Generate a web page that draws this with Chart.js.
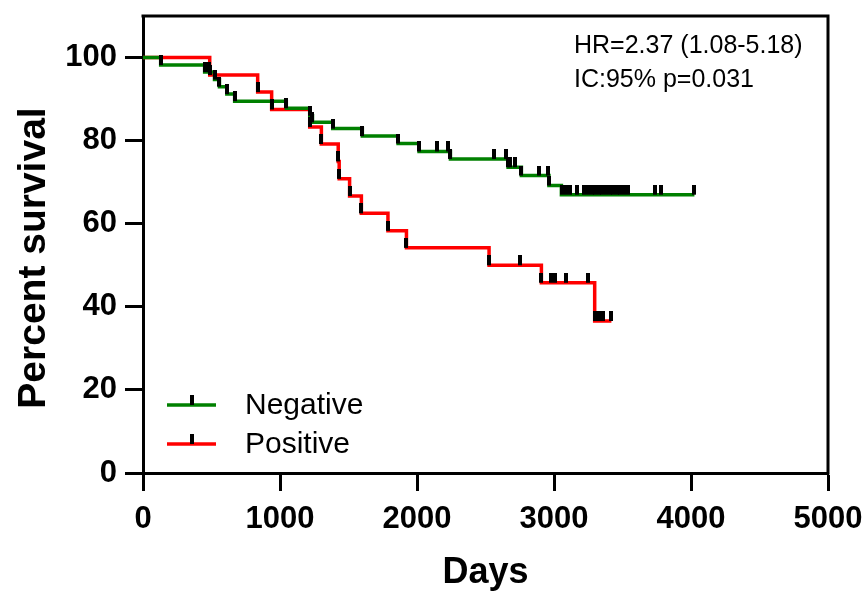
<!DOCTYPE html>
<html>
<head>
<meta charset="utf-8">
<script src="https://cdn.jsdelivr.net/npm/chart.js@4.4.1/dist/chart.umd.min.js"></script>
<style>
  html, body { margin: 0; padding: 0; background: #fff; }
</style>
</head>
<body>
<canvas id="kmChart" width="868" height="592"></canvas>
<script>
// Kaplan-Meier steps: day of each drop and survival (%) after it
const negDays = [0, 129, 450, 522, 558, 612, 669, 1046, 1217, 1237, 1385, 1601, 1862, 2015, 2244, 2665, 2762, 2963, 3054, 4025];
const negSurv = [100, 98.2, 96.5, 94.7, 93.0, 91.2, 89.5, 87.8, 86.0, 84.4, 82.9, 81.1, 79.3, 77.4, 75.6, 73.6, 71.6, 69.2, 67.0, 67.0];
const posDays = [0, 487, 837, 939, 1217, 1302, 1425, 1432, 1508, 1594, 1788, 1923, 2526, 2908, 3297, 3419];
const posSurv = [100, 95.8, 91.7, 87.5, 83.3, 79.2, 75.0, 70.8, 66.7, 62.5, 58.3, 54.2, 50.0, 45.8, 36.6, 36.6];

// censored observations (days)
const negCensored = [129, 450, 480, 522, 558, 612, 669, 1046, 1217, 1237, 1385, 1601, 1862, 2015, 2146, 2226, 2244,
  2560, 2653, 2665, 2680, 2713, 2762, 2891, 2956, 2963, 3060, 3090, 3120, 3169, 3222, 3248, 3275, 3301, 3327, 3354,
  3380, 3406, 3433, 3459, 3485, 3512, 3538, 3735, 3779, 4025];
const posCensored = [487, 837, 939, 1217, 1302, 1425, 1432, 1508, 1594, 1788, 1923, 2526, 2750, 2908, 2978, 3005,
  3085, 3248, 3300, 3325, 3355, 3419];

const groupNames = ['Negative', 'Positive'];
const groupColors = ['rgb(0, 128, 0)', 'rgb(255, 0, 0)'];
const xTicks = [0, 1000, 2000, 3000, 4000, 5000];
const yTicks = [0, 20, 40, 60, 80, 100];
const noteLines = ['HR=2.37 (1.08-5.18)', 'IC:95% p=0.031'];

const FONT = "'Liberation Sans', Arial, sans-serif";

function steps(days, surv) {
  return days.map((d, i) => ({ x: d, y: surv[i] }));
}

// value of the step curve at a given day
function survAt(days, surv, t) {
  let v = surv[0];
  for (let i = 0; i < days.length; i++) {
    if (days[i] <= t) v = surv[i];
  }
  return v;
}

function censorPoints(cens, days, surv) {
  return cens.map(t => ({ x: t, y: survAt(days, surv, t) }));
}

// small black tick sitting on top of the curve
function makeTick() {
  const c = document.createElement('canvas');
  c.width = 4;
  c.height = 20;
  const g = c.getContext('2d');
  g.fillStyle = '#000';
  g.fillRect(0, 0, 4, 10);
  return c;
}
const tickImg = makeTick();

const extras = {
  id: 'kmExtras',
  afterDraw(chart) {
    const { ctx, chartArea: a } = chart;
    ctx.save();

    // top and right frame
    ctx.strokeStyle = '#000';
    ctx.lineWidth = 3;
    ctx.lineCap = 'square';
    ctx.beginPath();
    ctx.moveTo(a.left, a.top);
    ctx.lineTo(a.right, a.top);
    ctx.lineTo(a.right, a.bottom);
    ctx.stroke();

    // legend
    ctx.lineCap = 'butt';
    ctx.font = '30px ' + FONT;
    ctx.textBaseline = 'middle';
    ctx.textAlign = 'left';
    groupNames.forEach((name, i) => {
      const y = a.bottom - 68 + i * 39;
      ctx.strokeStyle = groupColors[i];
      ctx.lineWidth = 3.5;
      ctx.beginPath();
      ctx.moveTo(a.left + 24, y);
      ctx.lineTo(a.left + 73, y);
      ctx.stroke();
      ctx.drawImage(tickImg, a.left + 47, y - 10);
      ctx.fillStyle = '#000';
      ctx.fillText(name, a.left + 102, y + 1);
    });

    // hazard ratio note
    ctx.font = '25px ' + FONT;
    noteLines.forEach((t, i) => {
      ctx.fillText(t, 574, 46 + i * 34);
    });

    // y axis title
    ctx.font = 'bold 39px ' + FONT;
    ctx.textAlign = 'center';
    ctx.translate(34, 258);
    ctx.rotate(-Math.PI / 2);
    ctx.fillText('Percent survival', 0, 0);
    ctx.restore();
  }
};

const tickFont = { family: FONT, size: 31, weight: 'bold' };

new Chart(document.getElementById('kmChart'), {
  type: 'line',
  data: {
    datasets: [
      {
        label: 'Negative censored',
        type: 'scatter',
        data: censorPoints(negCensored, negDays, negSurv),
        pointStyle: tickImg,
        pointRadius: 3,
        order: 0
      },
      {
        label: 'Positive censored',
        type: 'scatter',
        data: censorPoints(posCensored, posDays, posSurv),
        pointStyle: tickImg,
        pointRadius: 3,
        order: 0
      },
      {
        label: groupNames[0],
        data: steps(negDays, negSurv),
        borderColor: groupColors[0],
        borderWidth: 3.5,
        stepped: 'before',
        pointRadius: 0,
        fill: false,
        order: 1
      },
      {
        label: groupNames[1],
        data: steps(posDays, posSurv),
        borderColor: groupColors[1],
        borderWidth: 3.5,
        stepped: 'before',
        pointRadius: 0,
        fill: false,
        order: 2
      }
    ]
  },
  options: {
    responsive: false,
    animation: false,
    devicePixelRatio: 1,
    layout: { padding: { left: 0, top: 16, right: 40, bottom: 0 } },
    plugins: {
      legend: { display: false },
      tooltip: { enabled: false }
    },
    scales: {
      x: {
        type: 'linear',
        min: 0,
        max: 5000,
        afterBuildTicks: (axis) => { axis.ticks = xTicks.map(v => ({ value: v })); },
        afterFit: (scale) => { scale.height = 119; scale.paddingLeft = 0; scale.paddingRight = 0; },
        ticks: { font: tickFont, color: '#000', padding: 10, maxRotation: 0, callback: v => String(v) },
        grid: { drawOnChartArea: false, drawTicks: true, tickLength: 18, tickWidth: 3, tickColor: '#000' },
        border: { display: true, width: 3, color: '#000' },
        title: {
          display: true,
          text: 'Days',
          color: '#000',
          font: { family: FONT, size: 36, weight: 'bold', lineHeight: 1 },
          padding: { top: 0, bottom: 1 }
        }
      },
      y: {
        type: 'linear',
        min: 0,
        max: 110,
        afterBuildTicks: (axis) => { axis.ticks = yTicks.map(v => ({ value: v })); },
        afterFit: (scale) => { scale.width = 143; scale.paddingTop = 0; scale.paddingBottom = 0; },
        ticks: { font: tickFont, color: '#000', padding: 8, callback: v => String(v) },
        grid: { drawOnChartArea: false, drawTicks: true, tickLength: 18, tickWidth: 3, tickColor: '#000' },
        border: { display: true, width: 3, color: '#000' }
      }
    }
  },
  plugins: [extras]
});
</script>
</body>
</html>
